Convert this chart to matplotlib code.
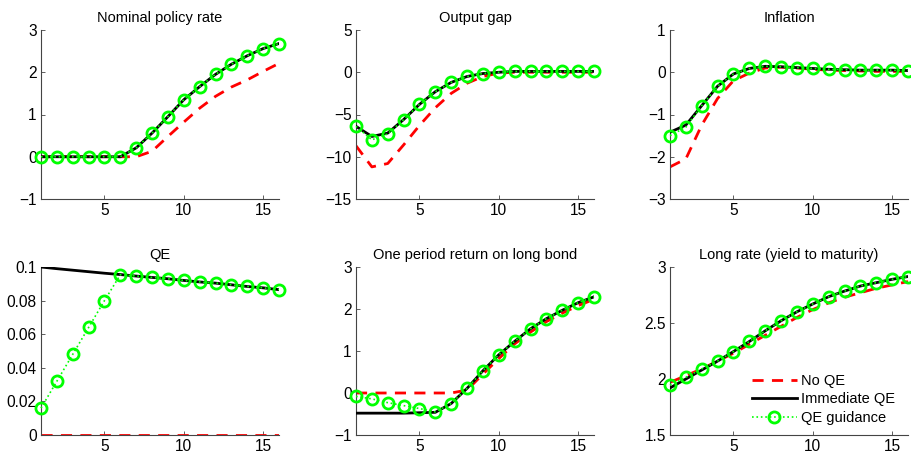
import numpy as np
import matplotlib
matplotlib.use("Agg")
from matplotlib import pyplot as plt

plt.rcParams['font.family'] = ['Liberation Sans', 'DejaVu Sans']

t = np.arange(1, 17)

# Nominal policy rate
rate_noqe = [0, 0, 0, 0, 0, 0, 0, 0.13, 0.48, 0.82, 1.15, 1.43, 1.65, 1.82, 2.02, 2.21]
rate_imm = [0, 0, 0, 0, 0, 0, 0.21, 0.56, 0.95, 1.35, 1.66, 1.95, 2.19, 2.39, 2.56, 2.68]
rate_guid = [0, 0, 0, 0, 0, 0, 0.21, 0.56, 0.95, 1.35, 1.66, 1.95, 2.19, 2.39, 2.56, 2.68]

# Output gap
gap_noqe = [-8.7, -11.2, -10.8, -8.6, -6.3, -4.2, -2.5, -1.3, -0.5, -0.1, 0, 0, 0, 0, 0, 0]
gap_imm = [-6.4, -7.6, -7.2, -5.6, -3.8, -2.3, -1.2, -0.5, -0.15, 0, 0.1, 0.1, 0.1, 0.1, 0.1, 0.1]
gap_guid = [-6.4, -8.0, -7.3, -5.6, -3.8, -2.3, -1.2, -0.5, -0.15, 0, 0.1, 0.1, 0.1, 0.1, 0.1, 0.1]

# Inflation
inf_noqe = [-2.24, -2.05, -1.25, -0.62, -0.2, -0.02, 0.1, 0.12, 0.1, 0.07, 0.05, 0.04, 0.03, 0.02, 0.02, 0.02]
inf_imm = [-1.42, -1.25, -0.79, -0.33, -0.04, 0.09, 0.14, 0.13, 0.11, 0.09, 0.07, 0.06, 0.05, 0.05, 0.05, 0.04]
inf_guid = [-1.5, -1.3, -0.79, -0.33, -0.04, 0.09, 0.14, 0.13, 0.11, 0.09, 0.07, 0.06, 0.05, 0.05, 0.05, 0.04]

# QE
qe_noqe = [0] * 16
qe_imm = [0.1, 0.099, 0.0981, 0.0972, 0.0963, 0.0955, 0.0946, 0.0938, 0.093, 0.092,
          0.0911, 0.0904, 0.0894, 0.0884, 0.0876, 0.0865]
qe_guid = [0.016, 0.032, 0.048, 0.064, 0.08, 0.0954, 0.0946, 0.0938, 0.093, 0.092,
           0.0911, 0.0904, 0.0894, 0.0884, 0.0876, 0.0865]

# One period return on long bond
ret_noqe = [0, 0, 0, 0, 0, 0, 0, 0.07, 0.45, 0.82, 1.17, 1.45, 1.7, 1.9, 2.08, 2.23]
ret_imm = [-0.48, -0.48, -0.48, -0.48, -0.47, -0.46, -0.25, 0.11, 0.53, 0.91, 1.23, 1.53, 1.77, 1.97, 2.15, 2.29]
ret_guid = [-0.08, -0.14, -0.23, -0.3, -0.37, -0.45, -0.25, 0.11, 0.53, 0.91, 1.23, 1.53, 1.77, 1.97, 2.15, 2.29]

# Long rate
lr_noqe = [1.97, 2.03, 2.09, 2.16, 2.23, 2.31, 2.39, 2.47, 2.55, 2.62, 2.68, 2.73, 2.77, 2.81, 2.84, 2.87]
lr_imm = [1.92, 2.0, 2.08, 2.16, 2.245, 2.335, 2.43, 2.52, 2.6, 2.67, 2.735, 2.785, 2.83, 2.86, 2.89, 2.915]
lr_guid = [1.946, 2.015, 2.09, 2.16, 2.245, 2.335, 2.43, 2.52, 2.6, 2.67, 2.735, 2.785, 2.83, 2.86, 2.89, 2.915]

titles = ["Nominal policy rate", "Output gap", "Inflation",
          "QE", "One period return on long bond", "Long rate (yield to maturity)"]
series = [(rate_noqe, rate_imm, rate_guid), (gap_noqe, gap_imm, gap_guid),
          (inf_noqe, inf_imm, inf_guid), (qe_noqe, qe_imm, qe_guid),
          (ret_noqe, ret_imm, ret_guid), (lr_noqe, lr_imm, lr_guid)]
ylims = [(-1, 3), (-15, 5), (-3, 1), (0, 0.1), (-1, 3), (1.5, 3)]
yticks = [[-1, 0, 1, 2, 3], [-15, -10, -5, 0, 5], [-3, -2, -1, 0, 1],
          [0, 0.02, 0.04, 0.06, 0.08, 0.1], [-1, 0, 1, 2, 3], [1.5, 2, 2.5, 3]]
ytlabels = [None, None, None, ["0", "0.02", "0.04", "0.06", "0.08", "0.1"], None, None]

fig = plt.figure(figsize=(9.12, 4.54), dpi=100)
W, H = 912, 454
lefts = [41, 356, 670]
tops = [30, 267]
bottoms = [199, 435]
aw = 238

for i in range(6):
    r, c = divmod(i, 3)
    ax = fig.add_axes([lefts[c] / W, (H - bottoms[r]) / H, aw / W, (bottoms[r] - tops[r]) / H])
    noqe, imm, guid = series[i]
    ax.plot(t, noqe, color='red', ls='--', lw=2, dashes=(4, 3), label='No QE', zorder=2)
    ax.plot(t, imm, color='black', ls='-', lw=2, label='Immediate QE', zorder=3)
    ax.plot(t, guid, color='#00ff00', ls=':', lw=1.2, marker='o', ms=8, mfc='none',
            mec='#00ff00', mew=2, label='QE guidance', zorder=4, clip_on=False)
    ax.set_xlim(1, 16)
    ax.set_ylim(*ylims[i])
    ax.set_xticks([5, 10, 15])
    ax.set_yticks(yticks[i])
    if ytlabels[i] is not None:
        ax.set_yticklabels(ytlabels[i])
    else:
        ax.set_yticklabels([("%g" % v).replace("-", "\u2212") for v in yticks[i]])
    ax.spines['top'].set_visible(False)
    ax.spines['right'].set_visible(False)
    for s in ('left', 'bottom'):
        ax.spines[s].set_color('#444444')
        ax.spines[s].set_linewidth(0.8)
    ax.tick_params(direction='in', length=3, width=0.6, color='#444444', labelsize=11.2, pad=3)
    ax.set_title(titles[i], fontsize=10.5, pad=6)
    if i == 5:
        ax.legend(loc='lower right', frameon=False, fontsize=10.5, handlelength=3.1,
                  borderaxespad=0.3, labelspacing=0.3, handletextpad=0.3,
                  bbox_to_anchor=(0.99, 0.0))

fig.savefig("out.png", dpi=100)
